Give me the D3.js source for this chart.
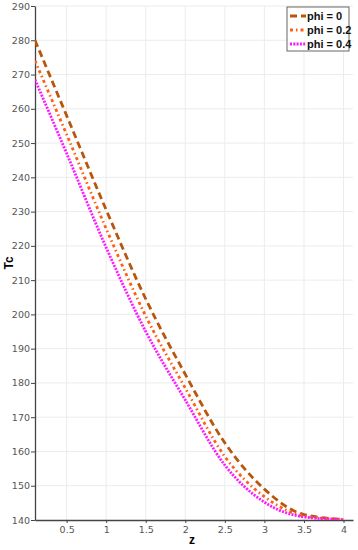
<!DOCTYPE html>
<html>
<head>
<meta charset="utf-8">
<script src="https://d3js.org/d3.v7.min.js"></script>
<style>
  body { margin: 0; background: #fff; }
  .tick text { font-family: "DejaVu Sans", sans-serif; font-size: 9.5px; fill: #555; }
</style>
</head>
<body>
<div id="chart"></div>
<script>
// z positions
var zVals = [0.1, 0.5, 1.0, 1.5, 2.0, 2.5, 3.0, 3.5, 4.0];
// Tc for each phi
var tcPhi0  = [280, 258, 230.5, 204.5, 182.5, 162.5, 149, 141.6, 140.2];
var tcPhi02 = [274, 252.5, 225, 199.5, 178.5, 158.5, 146.8, 141.2, 140.1];
var tcPhi04 = [268.5, 247, 219.5, 195, 175, 156, 145.2, 140.9, 140.1];

var seriesNames = ["phi = 0", "phi = 0.2", "phi = 0.4"];
var xTicks = [0.5, 1, 1.5, 2, 2.5, 3, 3.5, 4];
var yTicks = [140, 150, 160, 170, 180, 190, 200, 210, 220, 230, 240, 250, 260, 270, 280, 290];

var styles = [
  { color: "#b8560c", dash: "7,4" },
  { color: "#ff5f14", dash: "3,3,1.5,3" },
  { color: "#ff19ff", dash: "2,1.3" }
];

var W = 358, H = 550;
var margin = { left: 35, right: 5, top: 6, bottom: 30 };

var svg = d3.select("#chart").append("svg").attr("width", W).attr("height", H);

var x = d3.scaleLinear().domain([0.1, 4.12]).range([margin.left, W - margin.right]);
var y = d3.scaleLinear().domain([140, 290]).range([H - margin.bottom, margin.top]);

// grid
svg.append("g").selectAll("line.v").data(xTicks).enter().append("line")
  .attr("x1", d => x(d)).attr("x2", d => x(d))
  .attr("y1", y(140)).attr("y2", y(290))
  .attr("stroke", "#ececec").attr("stroke-width", 1);
svg.append("g").selectAll("line.h").data(yTicks.slice(1)).enter().append("line")
  .attr("x1", x(0.1)).attr("x2", x(4.12))
  .attr("y1", d => y(d)).attr("y2", d => y(d))
  .attr("stroke", "#ececec").attr("stroke-width", 1);

// axes
var xAxis = svg.append("g").attr("transform", "translate(0," + y(140) + ")")
  .call(d3.axisBottom(x).tickValues(xTicks).tickSize(3).tickSizeOuter(0)
    .tickFormat(d3.format("")));
var yAxis = svg.append("g").attr("transform", "translate(" + x(0.1) + ",0)")
  .call(d3.axisLeft(y).tickValues(yTicks).tickSize(4).tickSizeOuter(0));
[xAxis, yAxis].forEach(function (a) {
  a.select(".domain").attr("stroke", "#444").attr("stroke-width", 1.3);
  a.selectAll(".tick line").attr("stroke", "#444");
});
yAxis.selectAll(".tick text").attr("x", -5);
xAxis.selectAll(".tick text").attr("y", 6);

// axis titles
svg.append("text").attr("x", 192).attr("y", 544)
  .attr("font-family", "Liberation Sans, Arial, sans-serif").attr("font-weight", "bold")
  .attr("font-size", 12).attr("text-anchor", "middle").text("z");
svg.append("text").attr("transform", "translate(13," + 263 + ") rotate(-90)")
  .attr("font-family", "Liberation Sans, Arial, sans-serif").attr("font-weight", "bold")
  .attr("font-size", 12).attr("text-anchor", "middle").text("Tc");

// curves
var allSeries = [tcPhi0, tcPhi02, tcPhi04];
var line = d3.line()
  .x((d, i) => x(zVals[i]))
  .y(d => y(d))
  .curve(d3.curveMonotoneX);

svg.append("defs").append("clipPath").attr("id", "clip").append("rect")
  .attr("x", margin.left).attr("y", margin.top)
  .attr("width", W - margin.left - margin.right).attr("height", H - margin.top - margin.bottom);

svg.append("g").attr("clip-path", "url(#clip)").selectAll("path").data(allSeries).enter().append("path")
  .attr("d", line)
  .attr("fill", "none")
  .attr("stroke", (d, i) => styles[i].color)
  .attr("stroke-width", 2.8)
  .attr("stroke-dasharray", (d, i) => styles[i].dash);

// legend
var lg = svg.append("g").attr("transform", "translate(287,7)");
lg.append("rect").attr("width", 62).attr("height", 44)
  .attr("fill", "#fff").attr("stroke", "#666").attr("stroke-width", 1);
seriesNames.forEach(function (name, i) {
  var yy = 9 + i * 14;
  lg.append("line").attr("x1", 3).attr("x2", 19).attr("y1", yy).attr("y2", yy)
    .attr("stroke", styles[i].color).attr("stroke-width", 2.8)
    .attr("stroke-dasharray", styles[i].dash);
  lg.append("text").attr("x", 20).attr("y", yy + 4)
    .attr("font-family", "Liberation Sans, Arial, sans-serif").attr("font-weight", "bold")
    .attr("font-size", 11).attr("fill", "#111").text(name);
});
</script>
</body>
</html>
